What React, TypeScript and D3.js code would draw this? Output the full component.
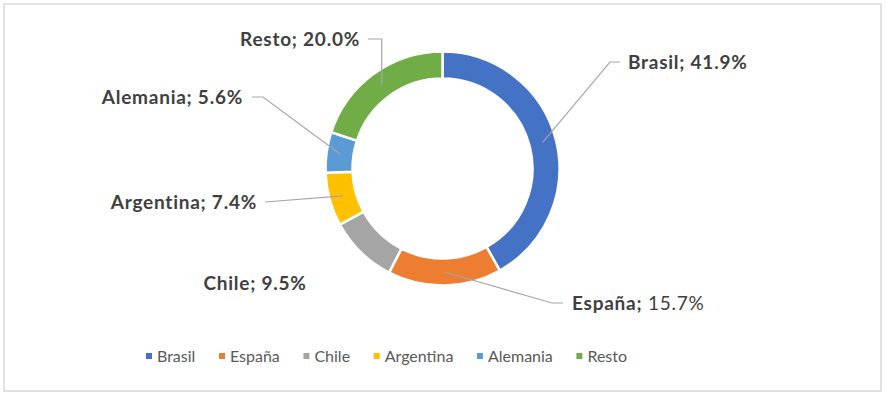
import React, { useEffect, useRef } from 'react';
import * as d3 from 'd3';

const categories = ['Brasil', 'España', 'Chile', 'Argentina', 'Alemania', 'Resto'];
const shares = [41.9, 15.7, 9.5, 7.4, 5.6, 20.0];
const colors = ['#4472C4', '#ED7D31', '#A5A5A5', '#FFC000', '#5B9BD5', '#70AD47'];

// label placement (Excel lets the user drag them around), per category
// [anchor x, center y, side, elbow x or null, leader start x or null]
const labelLayout: [number, number, 'start' | 'end' | 'middle', number | null, number | null][] = [
  [628, 62, 'start', 610, 620],
  [572, 303, 'start', 552, 563],
  [255, 283, 'middle', null, null],
  [257, 202, 'end', null, 265],
  [243, 97, 'end', 263, 252],
  [360, 39, 'end', -1, 368],
];
// only the name is bold for España in the original
const boldValue = [true, false, true, true, true, true];

const WIDTH = 886;
const HEIGHT = 396;
const FONT = 'Lato, "Open Sans", sans-serif';

export default function App() {
  const svgRef = useRef<SVGSVGElement | null>(null);

  useEffect(() => {
    if (!svgRef.current) return;
    const svg = d3.select(svgRef.current);
    svg.selectAll('*').remove();

    // chart frame
    svg.append('rect')
      .attr('x', 4).attr('y', 4)
      .attr('width', 877).attr('height', 387)
      .attr('fill', '#fff')
      .attr('stroke', '#d9d9d9')
      .attr('stroke-width', 1.5);

    const cx = 442.5;
    const cy = 168.5;
    const outerR = 117;
    const innerR = 90;

    const pie = d3.pie<number>().sort(null).value(d => d);
    const arcs = pie(shares);
    const arc = d3.arc<d3.PieArcDatum<number>>()
      .innerRadius(innerR)
      .outerRadius(outerR);

    const g = svg.append('g').attr('transform', `translate(${cx},${cy})`);

    g.selectAll('path.slice')
      .data(arcs)
      .enter()
      .append('path')
      .attr('class', 'slice')
      .attr('d', arc)
      .attr('fill', (_, i) => colors[i])
      .attr('stroke', '#fff')
      .attr('stroke-width', 2.5);

    // --- leader lines ---
    arcs.forEach((a, i) => {
      const [, ly, , elbow, start] = labelLayout[i];
      if (start === null) return;
      const [ex, ey] = arc.centroid(a);
      const end: [number, number] = [ex + cx, ey + cy];
      const pts: [number, number][] = [[start, ly]];
      if (elbow !== null) pts.push([elbow === -1 ? end[0] : elbow, ly]);
      pts.push(end);
      svg.append('path')
        .attr('d', d3.line()(pts))
        .attr('fill', 'none')
        .attr('stroke', '#a6a6a6')
        .attr('stroke-width', 1.2);
    });

    // --- data labels ---
    categories.forEach((c, i) => {
      const [lx, ly, anchor] = labelLayout[i];
      const t = svg.append('text')
        .attr('x', lx)
        .attr('y', ly)
        .attr('dy', '0.35em')
        .attr('text-anchor', anchor)
        .attr('fill', '#404040')
        .style('font-family', FONT)
        .style('font-size', '19px')
        .style('letter-spacing', '0.75px');
      t.append('tspan').attr('font-weight', 700).text(`${c};`);
      t.append('tspan')
        .attr('font-weight', boldValue[i] ? 700 : 400)
        .text(` ${d3.format('.1f')(shares[i])}%`);
    });

    // --- legend ---
    const legend = svg.append('g').attr('transform', 'translate(146,356)');
    let x = 0;
    categories.forEach((c, i) => {
      const item = legend.append('g').attr('transform', `translate(${x},0)`);
      item.append('rect')
        .attr('x', 0).attr('y', -3)
        .attr('width', 6).attr('height', 6)
        .attr('fill', colors[i]);
      const txt = item.append('text')
        .attr('x', 11)
        .attr('dy', '0.35em')
        .attr('fill', '#595959')
        .style('font-family', FONT)
        .style('font-size', '16px')
        .text(c);
      const w = (txt.node() as SVGTextElement).getComputedTextLength();
      x += 11 + w + 23.6;
    });
  }, []);

  return (
    <svg
      ref={svgRef}
      width={WIDTH}
      height={HEIGHT}
      style={{ position: 'absolute', left: 0, top: 0, display: 'block', background: '#fff' }}
    />
  );
}
